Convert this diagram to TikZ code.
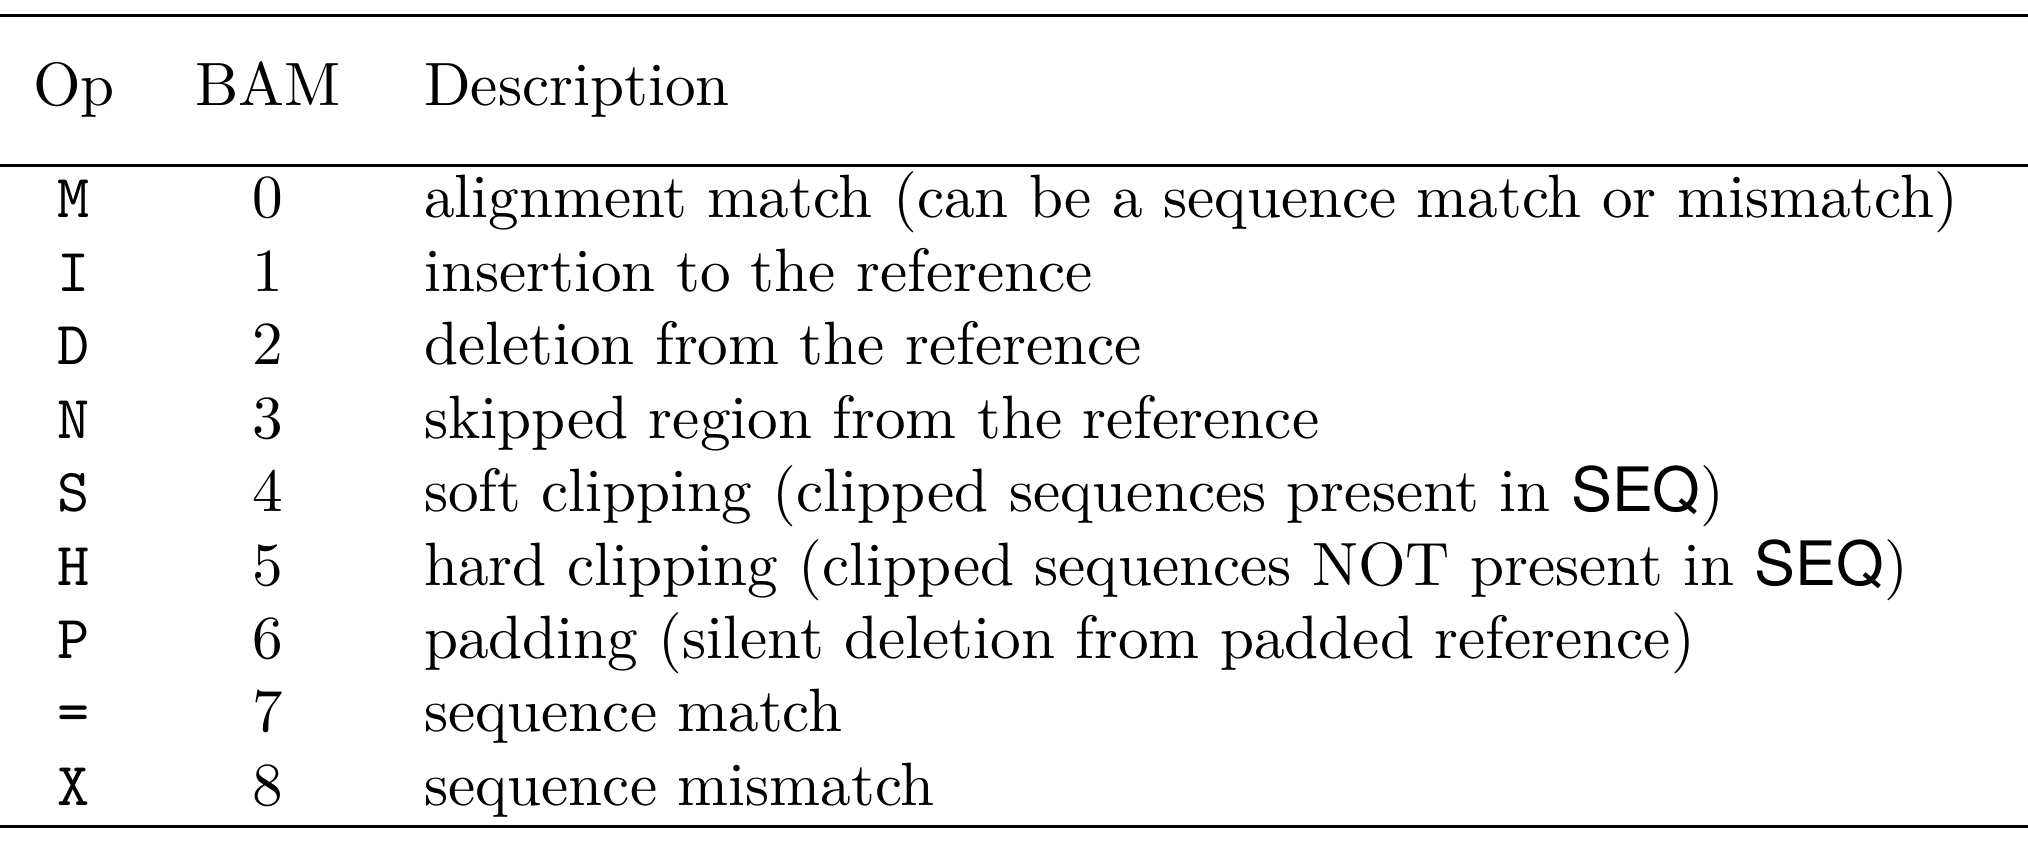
\documentclass[tikz,border=0pt]{standalone}
\usepackage{fontspec}
\newfontfamily\seqfont{TeX Gyre Heros}
\usepackage{tikz}
\usetikzlibrary{positioning}
\newcommand{\seq}{{\seqfont SEQ}}

\begin{document}
\begin{tikzpicture}
[x=1pt, y=1pt,
Rule/.style={line width=0.5pt},
Tag/.style={rectangle, inner sep=0pt, anchor=base},
OpNode/.style={rectangle, inner sep=0pt, anchor=base, font=\ttfamily},
BamNode/.style={rectangle, inner sep=0pt, anchor=base},
DescNode/.style={rectangle, inner sep=0pt, anchor=base west}]

\useasboundingbox (0,0) rectangle (331.4,137.3);

% 表线
\draw[Rule] (0,134.8) -- (331.4,134.8);
\draw[Rule] (0,110.3) -- (331.4,110.3);
\draw[Rule] (0,2.2) -- (331.4,2.2);

% 表头
\node[Tag] (t1) at (12.1, 120) {Op};
\node[Tag] (t2) at (43.8, 120) {BAM};
\node[Tag, anchor=base west] (t3) at (69.1, 120) {Description};

% Op
\node[OpNode] (o1) at (12.1, 101.7) {M};
\node[OpNode] (o2) at (12.1, 89.7) {I};
\node[OpNode] (o3) at (12.1, 77.7) {D};
\node[OpNode] (o4) at (12.1, 65.7) {N};
\node[OpNode] (o5) at (12.1, 53.7) {S};
\node[OpNode] (o6) at (12.1, 41.7) {H};
\node[OpNode] (o7) at (12.1, 29.7) {P};
\node[OpNode] (o8) at (12.1, 17.7) {=};
\node[OpNode] (o9) at (12.1, 5.7) {X};

% BAM
\node[BamNode] (b1) at (43.8, 101.7) {0};
\node[BamNode] (b2) at (43.8, 89.7) {1};
\node[BamNode] (b3) at (43.8, 77.7) {2};
\node[BamNode] (b4) at (43.8, 65.7) {3};
\node[BamNode] (b5) at (43.8, 53.7) {4};
\node[BamNode] (b6) at (43.8, 41.7) {5};
\node[BamNode] (b7) at (43.8, 29.7) {6};
\node[BamNode] (b8) at (43.8, 17.7) {7};
\node[BamNode] (b9) at (43.8, 5.7) {8};

% Description
\node[DescNode] (d1) at (69.1, 101.7) {alignment match (can be a sequence match or mismatch)};
\node[DescNode] (d2) at (69.1, 89.7) {insertion to the reference};
\node[DescNode] (d3) at (69.1, 77.7) {deletion from the reference};
\node[DescNode] (d4) at (69.1, 65.7) {skipped region from the reference};
\node[DescNode] (d5) at (69.1, 53.7) {soft clipping (clipped sequences present in \seq)};
\node[DescNode] (d6) at (69.1, 41.7) {hard clipping (clipped sequences NOT present in \seq)};
\node[DescNode] (d7) at (69.1, 29.7) {padding (silent deletion from padded reference)};
\node[DescNode] (d8) at (69.1, 17.7) {sequence match};
\node[DescNode] (d9) at (69.1, 5.7) {sequence mismatch};

\end{tikzpicture}
\end{document}
